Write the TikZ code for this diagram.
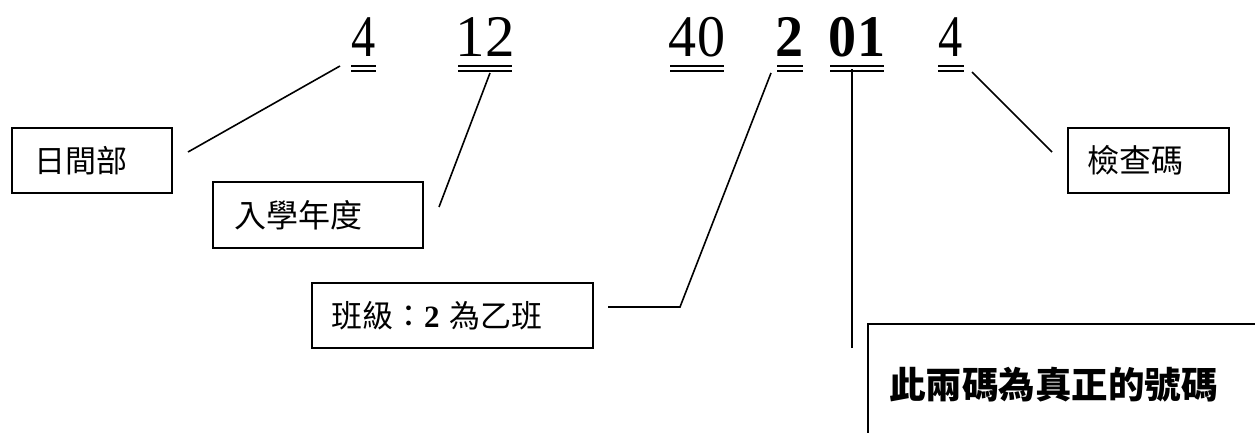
\documentclass[tikz,border=0pt]{standalone}
\usepackage{graphicx}
\usepackage{fontspec}
\setmainfont{Liberation Serif}
\newfontfamily\cjk{Noto Sans CJK TC}
\usetikzlibrary{calc}
\begin{document}
\begin{tikzpicture}[x=1pt,y=-1pt,
  box/.style={draw, line width=1.8pt, rectangle, align=left, inner ysep=0pt},
  dig/.style={inner sep=0pt, font=\fontsize{59}{60}\selectfont},
  ul/.style={line width=2.8pt},
  conn/.style={line width=1.6pt}]
\useasboundingbox (0,0) rectangle (1255,433);
% digits
\node[dig] (d1) at (363.5,37) {\scalebox{0.82}[1]{4}};
\node[dig] (d2) at (485,37) {12};
\node[dig] (d3) at (697,37) {\scalebox{0.95}[1]{40}};
\node[dig] (d4) at (790,37) {\bfseries\scalebox{0.95}[1]{2}};
\node[dig] (d5) at (857,37) {\bfseries\scalebox{0.95}[1]{01}};
\node[dig] (d6) at (951,37) {\scalebox{0.82}[1]{4}};
% double underlines
\foreach \n/\w in {d1/12.5,d2/27,d3/27,d4/13,d5/27,d6/13}{
  \draw[ul] ($(\n.center)+(-\w,29)$) -- ($(\n.center)+(\w,29)$);
  \draw[ul] ($(\n.center)+(-\w,34)$) -- ($(\n.center)+(\w,34)$);
}
% boxes
\node[box, minimum width=160, minimum height=65, inner xsep=22, text width=116,
  font=\cjk\fontsize{31}{36}\selectfont] (b1) at (92,160.5) {日間部};
\node[box, minimum width=210, minimum height=66, inner xsep=21, text width=168,
  font=\cjk\fontsize{32}{36}\selectfont] (b2) at (318,215) {入學年度};
\node[box, minimum width=281, minimum height=65, inner xsep=19, text width=243,
  font=\cjk\fontsize{31}{36}\selectfont] (b3) at (452.5,315.5) {班級：{\rmfamily\bfseries 2} 為乙班};
\node[box, minimum width=161, minimum height=65, inner xsep=19, text width=123,
  font=\cjk\fontsize{32}{36}\selectfont] (b4) at (1148.5,160.5) {檢查碼};
\node[box, minimum width=407, minimum height=122, inner xsep=21, text width=365,
  font=\cjk\bfseries\fontsize{36.5}{40}\selectfont] (b5) at (1071.5,385) {此兩碼為真正的號碼};
% connector ends
\coordinate (p1) at (188,152);  \coordinate (q1) at (340,66);
\coordinate (p2) at (439,207);  \coordinate (q2) at (490,73);
\coordinate (p3) at (608,307);  \coordinate (k3) at (680,307); \coordinate (q3) at (771,73);
\coordinate (p4) at (852,348);  \coordinate (q4) at (852,69);
\coordinate (p5) at (1052,152); \coordinate (q5) at (972,72);
\draw[conn] (p1) -- (q1);
\draw[conn] (p2) -- (q2);
\draw[conn] (p3) -- (k3) -- (q3);
\draw[conn] (p4) -- (q4);
\draw[conn] (p5) -- (q5);
\end{tikzpicture}
\end{document}
